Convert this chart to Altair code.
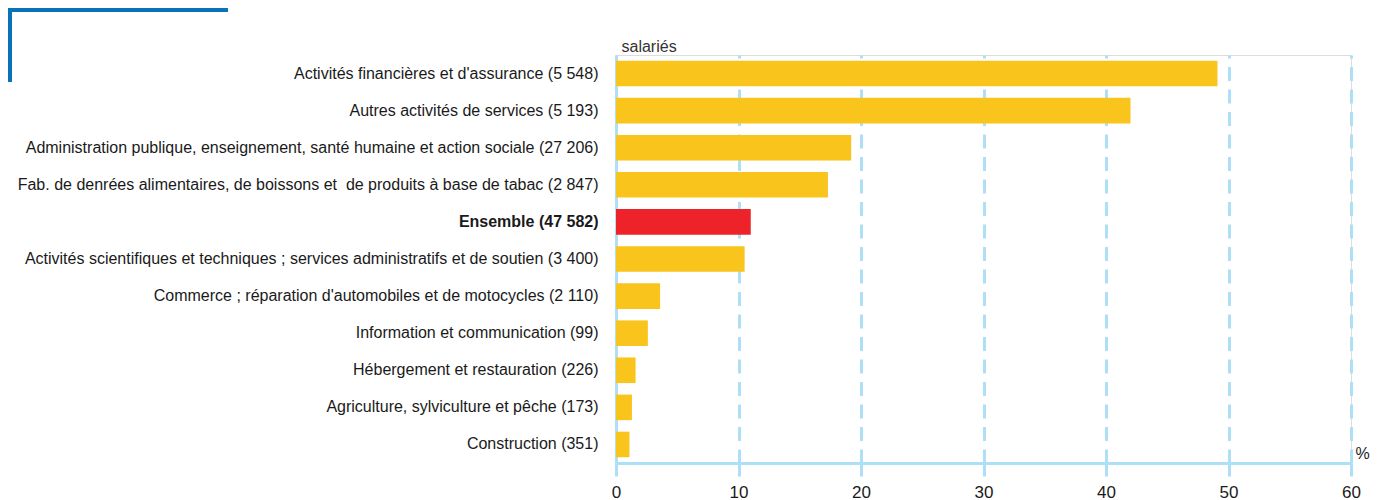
import altair as alt
import pandas as pd

categories = [
    "Activités financières et d'assurance (5 548)",
    "Autres activités de services (5 193)",
    "Administration publique, enseignement, santé humaine et action sociale (27 206)",
    "Fab. de denrées alimentaires, de boissons et\u00a0 de produits à base de tabac (2 847)",
    "Ensemble (47 582)",
    "Activités scientifiques et techniques ; services administratifs et de soutien (3 400)",
    "Commerce ; réparation d'automobiles et de motocycles (2 110)",
    "Information et communication (99)",
    "Hébergement et restauration (226)",
    "Agriculture, sylviculture et pêche (173)",
    "Construction (351)",
]
values = [49.1, 42.0, 19.2, 17.3, 11.0, 10.5, 3.6, 2.6, 1.6, 1.3, 1.1]
groups = ["Secteur", "Secteur", "Secteur", "Secteur", "Ensemble",
          "Secteur", "Secteur", "Secteur", "Secteur", "Secteur", "Secteur"]
x_ticks = [0, 10, 20, 30, 40, 50, 60]

FONT = "'Liberation Sans', Arial, sans-serif"
LIGHT_BLUE = "#ade0f7"
YELLOW = "#f9c41c"
RED = "#ee2229"
DECO_BLUE = "#0b72ba"

df = pd.DataFrame({"cat": categories, "val": values, "grp": groups})

bars = alt.Chart(df).mark_bar().encode(
    x=alt.X(
        "val:Q",
        scale=alt.Scale(domain=[0, 60], nice=False),
        axis=alt.Axis(
            values=x_ticks,
            title="%",
            titleX=739,
            titleY=-5,
            titleAlign="left",
            titleBaseline="alphabetic",
            titleFont=FONT,
            titleFontSize=16,
            titleFontWeight="normal",
            titleColor="#222222",
            titleAngle=0,
            labelFont=FONT,
            labelFontSize=17,
            labelColor="#1a1a1a",
            labelPadding=8,
            labelFlush=False,
            domainColor=LIGHT_BLUE,
            domainWidth=3,
            tickColor=LIGHT_BLUE,
            tickWidth=3,
            tickSize=13,
            grid=True,
            gridColor=LIGHT_BLUE,
            gridWidth=3,
            gridDash=[14, 8.5],
        ),
    ),
    y=alt.Y(
        "cat:N",
        sort=None,
        scale=alt.Scale(paddingInner=0.31, paddingOuter=0.155),
        axis=alt.Axis(
            title="salariés",
            titleAngle=0,
            titleX=5,
            titleY=-4,
            titleAlign="left",
            titleBaseline="alphabetic",
            titleFont=FONT,
            titleFontSize=16,
            titleFontWeight="normal",
            titleColor="#333333",
            labelFont=FONT,
            labelFontSize=16,
            labelColor="#1a1a1a",
            labelLimit=0,
            labelPadding=18,
            labelFontWeight=alt.condition(
                "datum.value == 'Ensemble (47 582)'", alt.value("bold"), alt.value("normal")
            ),
            ticks=False,
            domainColor=LIGHT_BLUE,
            domainWidth=3,
            grid=False,
        ),
    ),
    color=alt.Color(
        "grp:N",
        scale=alt.Scale(domain=["Secteur", "Ensemble"], range=[YELLOW, RED]),
        legend=None,
    ),
)

deco_df = pd.DataFrame({"k": [0]})
deco_h = alt.Chart(deco_df).mark_rule(color=DECO_BLUE, strokeWidth=4, strokeCap="butt").encode(
    x=alt.value(-608), x2=alt.value(-388), y=alt.value(-45)
)
deco_v = alt.Chart(deco_df).mark_rule(color=DECO_BLUE, strokeWidth=4, strokeCap="butt").encode(
    x=alt.value(-606), y=alt.value(-47), y2=alt.value(27)
)

chart = alt.layer(bars, deco_h, deco_v).properties(
    width=735,
    height=408,
    autosize=alt.AutoSizeParams(type="none"),
    padding={"left": 608, "top": 47, "right": 24, "bottom": 37},
).configure_view(stroke=None).configure(background="white")

chart.save("out.html", embed_options={"renderer": "svg", "actions": False})
